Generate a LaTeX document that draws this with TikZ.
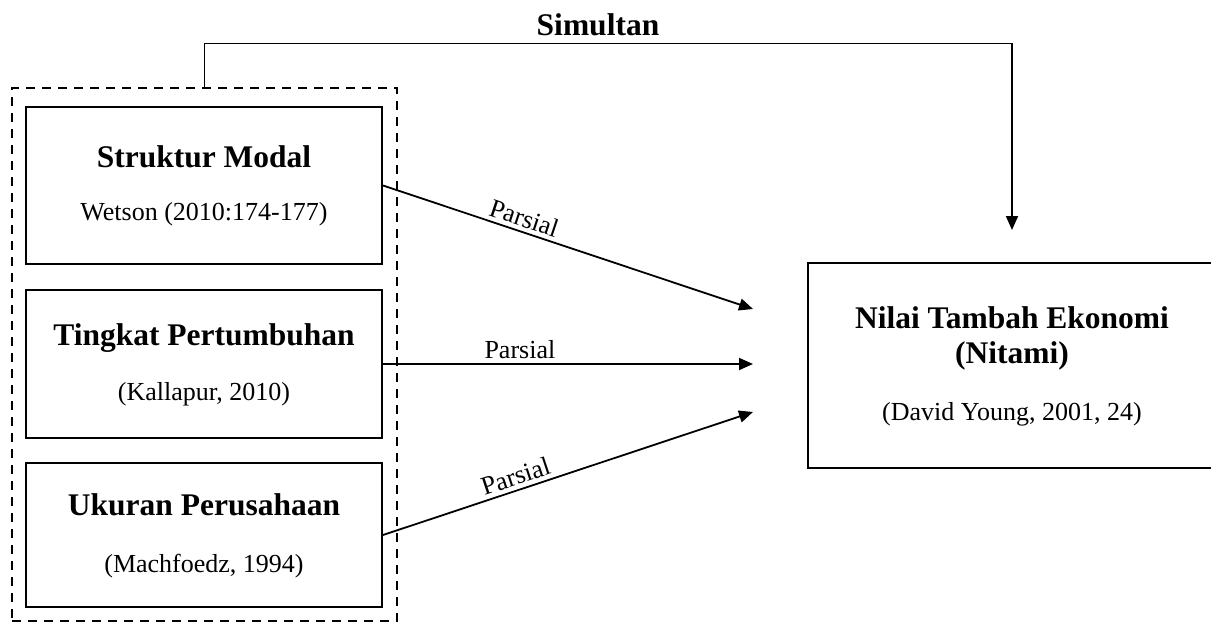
\documentclass[tikz,border=0pt]{standalone}
\usepackage{fontspec}
\setmainfont{Liberation Serif}
\usetikzlibrary{arrows.meta}
\tikzset{
  box/.style={draw, line width=2pt, rectangle, inner sep=0pt},
  grpbox/.style={draw, line width=1.8pt, dash pattern=on 9pt off 7pt, rectangle, inner sep=0pt},
  ttl/.style={font=\fontsize{31.5}{36}\selectfont\bfseries, anchor=base, inner sep=0pt},
  sub/.style={font=\fontsize{26}{30}\selectfont, anchor=base, inner sep=0pt},
  arr/.style={line width=1.8pt, -{Triangle[length=14pt, width=12pt]}},
  lbl/.style={font=\fontsize{26}{30}\selectfont, sloped, above, inner sep=4pt, pos=0.37}
}
\begin{document}
\begin{tikzpicture}[x=1pt, y=-1pt]
\clip (0,0) rectangle (1211,622);
\fill[white] (0,0) rectangle (1211,622);

% group
\node[grpbox, minimum width=385pt, minimum height=533pt] (grp) at (204.5,354.5) {};

% boxes
\node[box, minimum width=356pt, minimum height=157pt] (b1) at (204,185.5) {};
\node[box, minimum width=356pt, minimum height=148pt] (b2) at (204,364) {};
\node[box, minimum width=356pt, minimum height=144pt] (b3) at (204,535) {};
\node[box, minimum width=408pt, minimum height=205pt] (ny) at (1012,365.5) {};

% texts
\node[ttl] (t1) at (204,167) {Struktur Modal};
\node[sub] (s1) at (204,220) {Wetson (2010:174-177)};
\node[ttl] (t2) at (204,345) {Tingkat Pertumbuhan};
\node[sub] (s2) at (204,400) {(Kallapur, 2010)};
\node[ttl] (t3) at (204,515) {Ukuran Perusahaan};
\node[sub] (s3) at (204,572) {(Machfoedz, 1994)};
\node[ttl] (t4) at (1012,328) {Nilai Tambah Ekonomi};
\node[ttl] (t5) at (1012,363) {(Nitami)};
\node[sub] (s4) at (1012,420) {(David Young, 2001, 24)};

% arrow end points
\coordinate (e1) at (753,309);
\coordinate (e2) at (753,364);
\coordinate (e3) at (753,412);
\coordinate (sc) at (1012,43.5);
\coordinate (stip) at (1012,230);

\draw[arr] (b1.east) -- (e1) node[lbl] (p1) {Parsial};
\draw[arr] (b2.east) -- (e2) node[lbl] (p2) {Parsial};
\draw[arr] (b3.east) -- (e3) node[lbl] (p3) {Parsial};

\draw[arr] (grp.north) |- (sc) -- (stip);
\node[ttl] (sim) at (598,35) {Simultan};
\end{tikzpicture}
\end{document}
